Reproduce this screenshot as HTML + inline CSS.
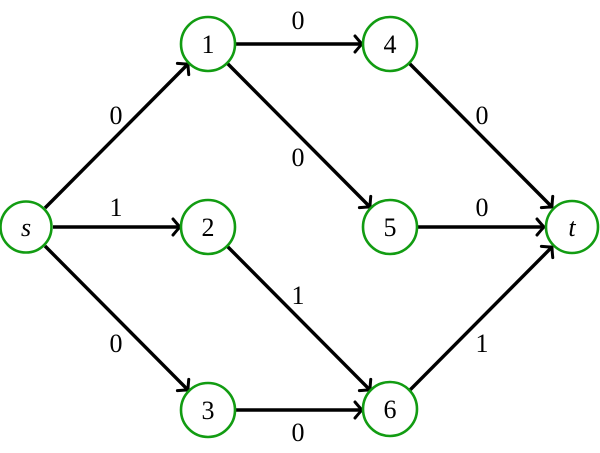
<!DOCTYPE html>
<html><head><meta charset="utf-8"><style>
html,body{margin:0;padding:0;background:#fff;}
svg{display:block;}
text{font-family:"Liberation Serif",serif;font-size:26px;fill:#000;}
</style></head><body>
<svg width="600" height="453" viewBox="0 0 600 453" xmlns="http://www.w3.org/2000/svg">
<defs>
<marker id="a" markerUnits="userSpaceOnUse" markerWidth="30" markerHeight="30" viewBox="-15 -15 30 30" refX="0" refY="0" orient="auto" overflow="visible">
<path d="M-7,-8 Q-2,-2 0,0 Q-2,2 -7,8" fill="none" stroke="#000" stroke-width="3" stroke-linecap="round"/>
</marker>
</defs>
<g stroke="#000" stroke-width="3.4" fill="none" marker-end="url(#a)">
<line x1="45" y1="208" x2="188" y2="64"/>
<line x1="53" y1="227" x2="180" y2="227"/>
<line x1="45" y1="246" x2="188" y2="390"/>
<line x1="235" y1="44" x2="362" y2="44"/>
<line x1="227" y1="63" x2="370" y2="207"/>
<line x1="409" y1="63" x2="552" y2="207"/>
<line x1="227" y1="246" x2="370" y2="390"/>
<line x1="417" y1="227" x2="544" y2="227"/>
<line x1="235" y1="410" x2="362" y2="410"/>
<line x1="409" y1="391" x2="552" y2="247"/>
</g>
<g stroke="#129c12" stroke-width="2.6" fill="#fff">
<circle cx="26" cy="227" r="25.5"/>
<circle cx="208" cy="44" r="27"/>
<circle cx="208" cy="227" r="27"/>
<circle cx="208" cy="410" r="27"/>
<circle cx="390" cy="44" r="27"/>
<circle cx="390" cy="227" r="27"/>
<circle cx="390" cy="409" r="27"/>
<circle cx="572" cy="227" r="26"/>
</g>
<g text-anchor="middle">
<text x="26" y="236" font-style="italic">s</text>
<text x="208" y="53">1</text>
<text x="208" y="236">2</text>
<text x="208" y="419">3</text>
<text x="390" y="53">4</text>
<text x="390" y="236">5</text>
<text x="390" y="418">6</text>
<text x="572" y="236" font-style="italic">t</text>
<text x="116" y="124">0</text>
<text x="116" y="216">1</text>
<text x="116" y="352">0</text>
<text x="298" y="29">0</text>
<text x="298" y="166">0</text>
<text x="298" y="304">1</text>
<text x="298" y="441">0</text>
<text x="482" y="124">0</text>
<text x="482" y="216">0</text>
<text x="482" y="352">1</text>
</g>
</svg>
</body></html>
